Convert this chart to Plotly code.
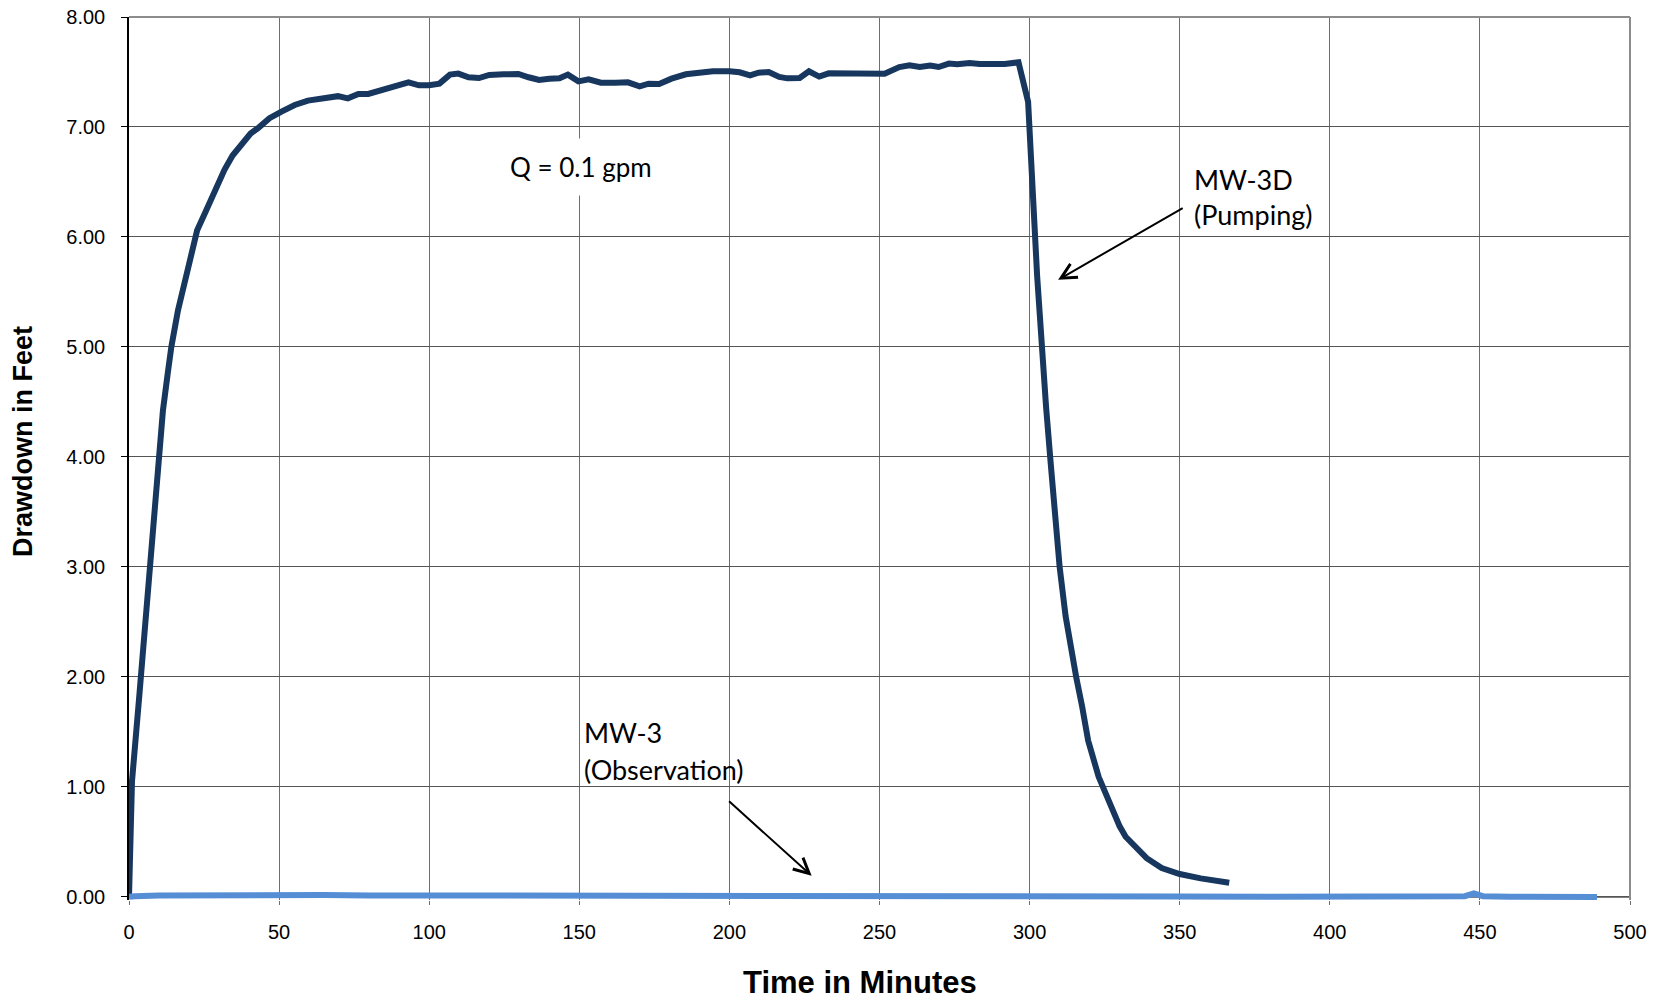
import plotly.graph_objects as go

# ---------------- data ----------------
time_pumping = [0, 1, 3.5, 5, 6.6, 8, 9.6, 11.3, 12.9, 14.1, 16.3, 19.6, 22.7, 25.7, 28.8,
                31.8, 34.5, 37.5, 40.5, 43, 46.8, 50.8, 55.2, 59.6, 65.2, 69.6, 72.9, 76.4,
                79.7, 83.1, 86.5, 90.3, 93.1, 96.6, 100, 103.4, 106.9, 109.7, 113.1, 116.6,
                120, 124.8, 129.7, 133.1, 136.6, 140, 143.4, 146.2, 149.7, 153.1, 157.2,
                162.1, 166.2, 170.1, 173.1, 176.6, 180.7, 185.5, 189.7, 194.5, 200, 203.4,
                206.9, 209.7, 213.1, 216.6, 219.3, 223.4, 226.5, 229.9, 233.1, 237.9, 242.8,
                247.6, 251.7, 256.6, 260, 263.4, 266.9, 269.7, 273.1, 275.9, 280, 283.4,
                287.6, 291.7, 296.3, 299.5, 302.5, 304, 305.5, 307, 308.5, 310, 312, 314,
                315.5, 317.5, 319.5, 323, 326.6, 330, 332, 335, 339, 344, 350, 357, 363, 366.5]
drawdown_pumping = [0, 1.05, 1.85, 2.35, 2.97, 3.45, 4.0, 4.42, 4.76, 5.0, 5.33, 5.70, 6.06, 6.24, 6.44,
                    6.61, 6.74, 6.85, 6.94, 6.99, 7.08, 7.14, 7.20, 7.24, 7.26, 7.28, 7.26, 7.30,
                    7.30, 7.33, 7.35, 7.385, 7.406, 7.379, 7.379, 7.394, 7.476, 7.485, 7.452, 7.445,
                    7.473, 7.479, 7.482, 7.452, 7.427, 7.439, 7.442, 7.476, 7.415, 7.433, 7.403,
                    7.403, 7.406, 7.37, 7.394, 7.391, 7.439, 7.479, 7.497, 7.506, 7.506, 7.497,
                    7.47, 7.494, 7.5, 7.455, 7.442, 7.445, 7.506, 7.458, 7.488, 7.488, 7.494,
                    7.482, 7.485, 7.545, 7.561, 7.545, 7.558, 7.545, 7.576, 7.57, 7.582, 7.573,
                    7.573, 7.573, 7.588, 7.23, 5.65, 5.0, 4.45, 3.95, 3.49, 3.0, 2.55, 2.2,
                    2.0, 1.73, 1.42, 1.09, 0.85, 0.64, 0.545, 0.455, 0.35, 0.26, 0.206, 0.167, 0.14, 0.127]

time_obs = [0, 2, 10, 20, 30, 40, 50, 60, 65, 80, 100, 115, 130, 150, 170, 200, 220, 250,
            270, 300, 330, 350, 380, 400, 420, 440, 445, 448, 451, 460, 480, 489]
drawdown_obs = [0.0, 0.005, 0.01, 0.012, 0.015, 0.018, 0.018, 0.02, 0.015, 0.012, 0.012, 0.014,
                0.013, 0.013, 0.012, 0.012, 0.01, 0.008, 0.006, 0.004, 0.003, 0.002, 0.0, 0.0,
                -0.002, 0.0, 0.005, 0.03, 0.005, 0.0, -0.002, -0.002]

x_ticks = [0, 50, 100, 150, 200, 250, 300, 350, 400, 450, 500]
y_ticks = [0, 1, 2, 3, 4, 5, 6, 7, 8]
y_tick_labels = ["%.2f" % v for v in y_ticks]

x_title = "Time in Minutes"
y_title = "Drawdown in Feet"

# ---------------- figure ----------------
fig = go.Figure()
fig.add_trace(go.Scatter(x=time_pumping, y=drawdown_pumping, mode="lines",
                         line=dict(color="#17375E", width=6), name="MW-3D (Pumping)"))
fig.add_trace(go.Scatter(x=time_obs, y=drawdown_obs, mode="lines",
                         line=dict(color="#558ED5", width=6), name="MW-3 (Observation)"))

cal = "Lato, Carlito, Calibri, sans-serif"
ann_font = dict(family=cal, size=27, color="black")

annotations = [
    dict(x=150.6, y=6.636, xref="x", yref="y", text="Q = 0.1 gpm", showarrow=False,
         xanchor="center", yanchor="middle", font=dict(family=cal, size=26, color="black"),
         bgcolor="white", borderpad=12),
    dict(x=354.2, y=6.525, xref="x", yref="y", text="MW-3D", showarrow=False,
         xanchor="left", yanchor="middle", font=ann_font),
    dict(x=354.2, y=6.2, xref="x", yref="y", text="(Pumping)", showarrow=False,
         xanchor="left", yanchor="middle", font=ann_font),
    dict(x=150.9, y=1.49, xref="x", yref="y", text="MW-3", showarrow=False,
         xanchor="left", yanchor="middle", font=ann_font),
    dict(x=150.9, y=1.156, xref="x", yref="y", text="(Observation)", showarrow=False,
         xanchor="left", yanchor="middle", font=ann_font),
    # arrows
    dict(x=309.5, y=5.61, xref="x", yref="y", ax=351.5, ay=6.27, axref="x", ayref="y",
         text="", showarrow=True, arrowhead=5, arrowwidth=2, arrowsize=1.5,
         arrowcolor="black", standoff=0, startstandoff=0),
    dict(x=227.4, y=0.19, xref="x", yref="y", ax=199.4, ay=0.88, axref="x", ayref="y",
         text="", showarrow=True, arrowhead=5, arrowwidth=2, arrowsize=1.5,
         arrowcolor="black", standoff=0, startstandoff=0),
    # axis titles
    dict(x=0.4867, y=-0.0935, xref="paper", yref="paper", text="<b>%s</b>" % x_title,
         showarrow=False, xanchor="center", yanchor="middle",
         font=dict(family="Liberation Sans, Arial, sans-serif", size=31, color="black")),
    dict(x=-0.0705, y=0.519, xref="paper", yref="paper", text="<b>%s</b>" % y_title,
         showarrow=False, xanchor="center", yanchor="middle", textangle=-90,
         font=dict(family="Liberation Sans, Arial, sans-serif", size=27, color="black")),
]

shapes = [
    dict(type="line", xref="paper", x0=0, x1=1, yref="y", y0=0, y1=0,
         line=dict(color="black", width=1.5), layer="between"),
    dict(type="line", xref="paper", x0=0, x1=1, yref="paper", y0=1, y1=1,
         line=dict(color="#8c8c8c", width=2), layer="above"),
    dict(type="line", xref="paper", x0=1, x1=1, yref="paper", y0=0, y1=1,
         line=dict(color="#8c8c8c", width=2), layer="above"),
]

tick_font = dict(family="Liberation Sans, Arial, sans-serif", size=20, color="black")

fig.update_layout(
    width=1655, height=999,
    margin=dict(l=129, r=25, t=17, b=99, pad=0, autoexpand=False),
    paper_bgcolor="white", plot_bgcolor="white",
    showlegend=False,
    annotations=annotations,
    shapes=shapes,
    xaxis=dict(range=[0, 500], tickmode="array", tickvals=x_ticks, automargin=False,
               showgrid=True, gridcolor="#6e6e6e", gridwidth=1,
               ticks="outside", ticklen=4, tickcolor="#6e6e6e", tickwidth=1,
               showline=False, zeroline=False, tickfont=tick_font,
               ticklabelstandoff=10),
    yaxis=dict(range=[-0.03, 8], tickmode="array", tickvals=y_ticks, ticktext=y_tick_labels,
               automargin=False,
               showgrid=True, gridcolor="#555555", gridwidth=1,
               ticks="outside", ticklen=6, tickcolor="black", tickwidth=1,
               showline=True, linecolor="black", linewidth=1.5, zeroline=False,
               tickfont=tick_font, ticklabelstandoff=12),
)

fig.write_html("out.html")
